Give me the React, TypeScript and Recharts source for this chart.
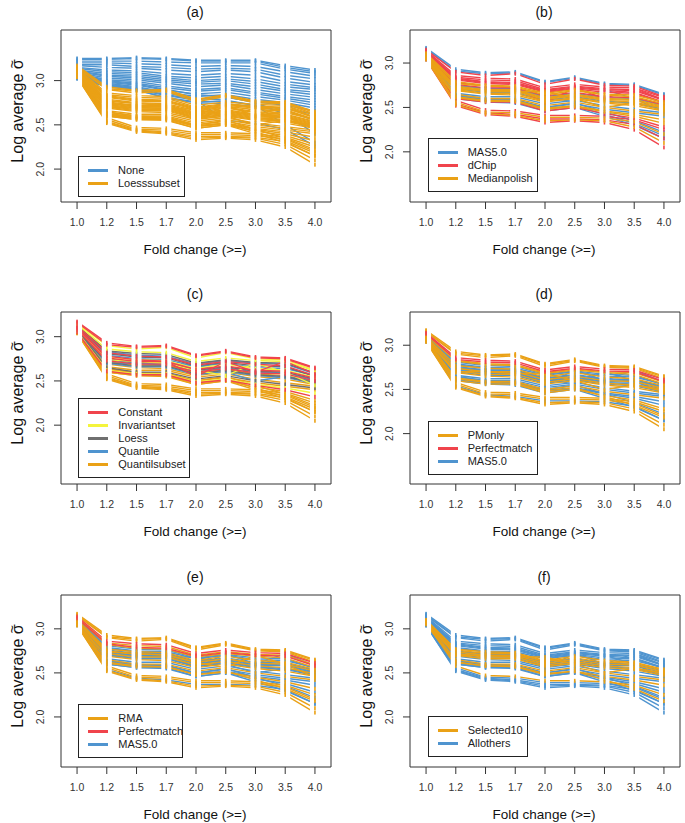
import { ComposedChart, Line, Scatter, XAxis, YAxis, ReferenceArea } from "recharts";

const FONT = "'Liberation Sans', Arial, Helvetica, sans-serif";

// fold change thresholds (x categories)
const FOLD_LABELS = ["1.0", "1.2", "1.5", "1.7", "2.0", "2.5", "3.0", "3.5", "4.0"];
const Y_TICKS = [2.0, 2.5, 3.0];

// lines shared by panels (b)-(f); orange "Loesssubset" lines of panel (a)
const SUBSET_LINES: number[][] = [
  [3.17, 2.93, 2.89, 2.9, 2.79, 2.84, 2.77, 2.76, 2.65],
  [3.16, 2.91, 2.88, 2.89, 2.78, 2.83, 2.76, 2.75, 2.64],
  [3.15, 2.9, 2.86, 2.88, 2.76, 2.82, 2.75, 2.74, 2.62],
  [3.14, 2.86, 2.83, 2.82, 2.72, 2.76, 2.73, 2.72, 2.61],
  [3.13, 2.84, 2.81, 2.8, 2.7, 2.74, 2.71, 2.7, 2.59],
  [3.12, 2.83, 2.79, 2.78, 2.69, 2.73, 2.7, 2.69, 2.58],
  [3.12, 2.82, 2.78, 2.77, 2.68, 2.72, 2.69, 2.67, 2.56],
  [3.11, 2.81, 2.77, 2.76, 2.67, 2.71, 2.67, 2.66, 2.55],
  [3.11, 2.79, 2.75, 2.74, 2.66, 2.7, 2.65, 2.64, 2.56],
  [3.1, 2.77, 2.74, 2.73, 2.64, 2.69, 2.64, 2.62, 2.54],
  [3.1, 2.76, 2.72, 2.72, 2.63, 2.67, 2.62, 2.61, 2.53],
  [3.09, 2.75, 2.71, 2.71, 2.62, 2.66, 2.61, 2.6, 2.52],
  [3.09, 2.74, 2.7, 2.7, 2.61, 2.65, 2.6, 2.59, 2.51],
  [3.08, 2.73, 2.69, 2.69, 2.6, 2.64, 2.59, 2.58, 2.5],
  [3.08, 2.72, 2.68, 2.68, 2.59, 2.63, 2.58, 2.56, 2.49],
  [3.07, 2.71, 2.67, 2.67, 2.58, 2.62, 2.57, 2.55, 2.48],
  [3.07, 2.7, 2.66, 2.66, 2.57, 2.61, 2.56, 2.54, 2.47],
  [3.06, 2.69, 2.65, 2.64, 2.56, 2.6, 2.55, 2.52, 2.46],
  [3.1, 2.78, 2.74, 2.72, 2.55, 2.72, 2.6, 2.72, 2.58],
  [3.09, 2.74, 2.72, 2.7, 2.62, 2.56, 2.7, 2.6, 2.45],
  [3.08, 2.7, 2.7, 2.68, 2.68, 2.6, 2.5, 2.55, 2.5],
  [3.08, 2.66, 2.62, 2.62, 2.54, 2.58, 2.52, 2.48, 2.44],
  [3.07, 2.65, 2.6, 2.6, 2.52, 2.56, 2.5, 2.46, 2.42],
  [3.06, 2.63, 2.59, 2.59, 2.5, 2.54, 2.48, 2.44, 2.4],
  [3.06, 2.62, 2.58, 2.58, 2.49, 2.52, 2.46, 2.42, 2.36],
  [3.05, 2.61, 2.57, 2.57, 2.48, 2.51, 2.45, 2.4, 2.32],
  [3.05, 2.6, 2.56, 2.56, 2.46, 2.5, 2.43, 2.38, 2.28],
  [3.06, 2.64, 2.6, 2.58, 2.5, 2.55, 2.45, 2.35, 2.22],
  [3.05, 2.62, 2.58, 2.57, 2.48, 2.52, 2.42, 2.32, 2.18],
  [3.04, 2.6, 2.56, 2.55, 2.46, 2.5, 2.4, 2.3, 2.15],
  [3.07, 2.58, 2.47, 2.46, 2.41, 2.41, 2.4, 2.36, 2.25],
  [3.06, 2.56, 2.45, 2.44, 2.39, 2.39, 2.38, 2.34, 2.2],
  [3.05, 2.54, 2.44, 2.42, 2.37, 2.37, 2.36, 2.31, 2.15],
  [3.04, 2.53, 2.43, 2.41, 2.35, 2.36, 2.35, 2.28, 2.1],
  [3.04, 2.52, 2.42, 2.4, 2.33, 2.35, 2.33, 2.25, 2.05],
];

// blue "None" lines of panel (a)
const NONE_LINES: number[][] = [
  [3.25, 3.25, 3.26, 3.25, 3.23, 3.23, 3.23, 3.17, 3.12],
  [3.24, 3.24, 3.25, 3.24, 3.22, 3.22, 3.22, 3.15, 3.1],
  [3.22, 3.22, 3.22, 3.21, 3.2, 3.2, 3.2, 3.13, 3.08],
  [3.2, 3.2, 3.19, 3.18, 3.16, 3.17, 3.16, 3.1, 3.05],
  [3.18, 3.18, 3.16, 3.15, 3.13, 3.14, 3.13, 3.06, 3.02],
  [3.17, 3.15, 3.14, 3.12, 3.1, 3.12, 3.1, 3.03, 2.98],
  [3.15, 3.12, 3.11, 3.08, 3.06, 3.08, 3.06, 2.99, 2.95],
  [3.14, 3.1, 3.09, 3.05, 3.03, 3.05, 3.02, 2.96, 2.92],
  [3.12, 3.08, 3.07, 3.03, 3.0, 3.02, 2.99, 2.93, 2.9],
  [3.11, 3.06, 3.05, 3.01, 2.98, 3.0, 2.96, 2.9, 2.87],
  [3.1, 3.05, 3.03, 2.99, 2.96, 2.97, 2.93, 2.88, 2.84],
  [3.09, 3.03, 3.01, 2.97, 2.93, 2.95, 2.9, 2.85, 2.81],
  [3.08, 3.01, 2.99, 2.94, 2.9, 2.92, 2.87, 2.82, 2.78],
  [3.07, 3.0, 2.97, 2.92, 2.88, 2.9, 2.85, 2.8, 2.75],
  [3.06, 2.98, 2.95, 2.89, 2.85, 2.87, 2.82, 2.78, 2.72],
  [3.05, 2.97, 2.93, 2.87, 2.82, 2.84, 2.79, 2.75, 2.69],
  [3.04, 2.95, 2.91, 2.84, 2.79, 2.81, 2.76, 2.72, 2.66],
  [3.03, 2.93, 2.89, 2.81, 2.76, 2.77, 2.72, 2.68, 2.62],
  [3.02, 2.94, 2.9, 2.8, 2.75, 2.74, 2.7, 2.66, 2.55],
  [3.04, 2.96, 2.92, 2.86, 2.8, 2.78, 2.72, 2.5, 2.3],
  [3.03, 2.95, 2.9, 2.83, 2.78, 2.55, 2.52, 2.45, 2.26],
  [3.06, 2.99, 2.96, 2.9, 2.84, 2.82, 2.75, 2.62, 2.4],
];

// group of each SUBSET_LINES entry, per panel
const SUMMARY_GROUP = [0, 0, 1, 1, 1, 1, 1, 1, 2, 2, 1, 0, 2, 2, 2, 0, 2, 2, 1, 0, 2, 0, 2, 0, 2, 2, 1, 0, 0, 0, 1, 2, 1, 2, 1];
const NORM_GROUP = [0, 0, 1, 1, 2, 3, 0, 2, 3, 1, 0, 2, 3, 0, 4, 2, 3, 4, 0, 1, 3, 4, 2, 4, 1, 0, 4, 4, 4, 4, 4, 4, 4, 4, 4];
const PM_GROUP = [0, 0, 0, 1, 1, 0, 0, 2, 2, 0, 2, 2, 0, 2, 2, 0, 2, 0, 2, 2, 0, 2, 2, 0, 2, 2, 0, 2, 0, 2, 0, 0, 2, 0, 0];
const BG_GROUP = [0, 0, 0, 1, 0, 1, 0, 2, 2, 0, 2, 0, 2, 2, 0, 2, 2, 0, 2, 0, 2, 2, 0, 2, 2, 0, 2, 2, 0, 2, 0, 0, 2, 0, 0];
const SELECT_GROUP = [1, 1, 1, 1, 1, 1, 1, 1, 1, 0, 0, 1, 0, 1, 0, 1, 0, 1, 1, 1, 0, 1, 0, 1, 0, 1, 1, 1, 0, 1, 0, 1, 1, 1, 1];

const BLUE = "#4f94cf";
const ORANGE = "#eaa116";
const RED = "#f0444c";
const YELLOW = "#f4f43c";
const GREY = "#6f6f6f";

const rows = FOLD_LABELS.map((_, i) => {
  const r: Record<string, number> = { x: i + 1 };
  SUBSET_LINES.forEach((l, j) => (r["s" + j] = l[i]));
  NONE_LINES.forEach((l, j) => (r["n" + j] = l[i]));
  return r;
});
const X_TICKS = rows.map((r) => r.x);
const X_DOMAIN = [0.46, 9.54];

// chart geometry
const CW = 340;
const CH = 258;
const PLOT_TOP = 30;
const PLOT_H = 172;
const PLOT_LEFT = 61;
const PLOT_RIGHT_MARGIN = 9;

type Series = { key: string; color: string };

function groupedSeries(groups: number[], colors: string[], order: number[]): Series[] {
  const out: Series[] = [];
  order.forEach((g) => {
    groups.forEach((gg, j) => {
      if (gg === g) out.push({ key: "s" + j, color: colors[g] });
    });
  });
  return out;
}

const PANELS = [
  {
    title: "(a)",
    left: 0,
    top: 0,
    domain: [1.628, 3.572],
    labels: ["None", "Loesssubset"],
    colors: [BLUE, ORANGE],
    series: [
      ...NONE_LINES.map((_, j) => ({ key: "n" + j, color: BLUE })),
      ...SUBSET_LINES.map((_, j) => ({ key: "s" + j, color: ORANGE })),
    ],
    legend: { left: 78, top: 155.7, width: 107 },
  },
  {
    title: "(b)",
    left: 349,
    top: 0,
    domain: [1.435, 3.372],
    labels: ["MAS5.0", "dChip", "Medianpolish"],
    colors: [BLUE, RED, ORANGE],
    series: groupedSeries(SUMMARY_GROUP, [BLUE, RED, ORANGE], [0, 1, 2]),
    legend: { left: 78.7, top: 137.7, width: 110 },
  },
  {
    title: "(c)",
    left: 0,
    top: 282,
    domain: [1.335, 3.279],
    labels: ["Constant", "Invariantset", "Loess", "Quantile", "Quantilsubset"],
    colors: [RED, YELLOW, GREY, BLUE, ORANGE],
    series: groupedSeries(NORM_GROUP, [RED, YELLOW, GREY, BLUE, ORANGE], [4, 3, 2, 1, 0]),
    legend: { left: 78.3, top: 116.3, width: 112 },
  },
  {
    title: "(d)",
    left: 349,
    top: 282,
    domain: [1.43, 3.376],
    labels: ["PMonly", "Perfectmatch", "MAS5.0"],
    colors: [ORANGE, RED, BLUE],
    series: groupedSeries(PM_GROUP, [ORANGE, RED, BLUE], [2, 0, 1]),
    legend: { left: 78.7, top: 139, width: 110 },
  },
  {
    title: "(e)",
    left: 0,
    top: 565,
    domain: [1.432, 3.384],
    labels: ["RMA", "Perfectmatch", "MAS5.0"],
    colors: [ORANGE, RED, BLUE],
    series: groupedSeries(BG_GROUP, [ORANGE, RED, BLUE], [2, 0, 1]),
    legend: { left: 78.3, top: 138.7, width: 105 },
  },
  {
    title: "(f)",
    left: 349,
    top: 565,
    domain: [1.432, 3.384],
    labels: ["Selected10", "Allothers"],
    colors: [ORANGE, BLUE],
    series: groupedSeries(SELECT_GROUP, [ORANGE, BLUE], [1, 0]),
    legend: { left: 78.7, top: 151.3, width: 100 },
  },
];

const XTick = (props: any) => {
  const { x, y, payload } = props;
  return (
    <g>
      <line x1={x} x2={x} y1={y} y2={y + 7} stroke="#333" strokeWidth={1} />
      <text x={x} y={y + 20} textAnchor="middle" dominantBaseline="central" fontSize={10.5} fill="#333" fontFamily={FONT}>
        {FOLD_LABELS[payload.value - 1]}
      </text>
    </g>
  );
};

const YTick = (props: any) => {
  const { x, y, payload } = props;
  return (
    <g>
      <line x1={x - 7} x2={x} y1={y} y2={y} stroke="#333" strokeWidth={1} />
      <text
        x={x - 21}
        y={y}
        textAnchor="middle"
        dominantBaseline="central"
        fontSize={10.5}
        fill="#333"
        fontFamily={FONT}
        transform={`rotate(-90 ${x - 21} ${y})`}
      >
        {payload.value.toFixed(1)}
      </text>
    </g>
  );
};

// white column that breaks the lines around each point, like type="b"
const GapShape = (props: any) => (
  <rect x={props.cx - 5} y={PLOT_TOP + 1.5} width={10} height={PLOT_H - 3} fill="#ffffff" />
);

const MarkShape = (props: any) => (
  <rect x={props.cx - 0.8} y={props.cy - 2} width={1.6} height={4} fill={props.payload.color} />
);

function Panel({ p }: { p: (typeof PANELS)[number] }) {
  const points = p.series.flatMap((s) => rows.map((r) => ({ x: r.x, y: r[s.key], color: s.color })));
  const gaps = rows.map((r) => ({ x: r.x, y: p.domain[0] + 0.5 }));
  const boxCx = PLOT_LEFT + (CW - PLOT_LEFT - PLOT_RIGHT_MARGIN) / 2 - 1;
  return (
    <div style={{ position: "absolute", left: p.left, top: p.top, width: CW, height: CH }}>
      <ComposedChart
        width={CW}
        height={CH}
        data={rows}
        margin={{ top: PLOT_TOP, right: PLOT_RIGHT_MARGIN, bottom: 0, left: 0 }}
      >
        <XAxis
          type="number"
          dataKey="x"
          domain={X_DOMAIN}
          ticks={X_TICKS}
          interval={0}
          axisLine={false}
          tickLine={false}
          tickSize={0}
          tickMargin={0}
          height={CH - PLOT_TOP - PLOT_H}
          tick={XTick}
          allowDataOverflow
        />
        <YAxis
          type="number"
          domain={p.domain}
          ticks={Y_TICKS}
          axisLine={false}
          tickLine={false}
          tickSize={0}
          tickMargin={0}
          width={PLOT_LEFT}
          tick={YTick}
          allowDataOverflow
        />
        <ReferenceArea
          x1={X_DOMAIN[0]}
          x2={X_DOMAIN[1]}
          y1={p.domain[0]}
          y2={p.domain[1]}
          fill="#fff"
          fillOpacity={0}
          stroke="#333"
          strokeWidth={1}
          ifOverflow="visible"
        />
        {p.series.map((s) => (
          <Line
            key={s.key}
            type="linear"
            dataKey={s.key}
            stroke={s.color}
            strokeWidth={1.4}
            dot={false}
            activeDot={false}
            isAnimationActive={false}
          />
        ))}
        <Scatter data={gaps} dataKey="y" shape={GapShape} isAnimationActive={false} />
        <Scatter data={points} dataKey="y" shape={MarkShape} isAnimationActive={false} />
      </ComposedChart>

      <div
        style={{
          position: "absolute",
          left: boxCx,
          top: 11.5,
          transform: "translate(-50%, -50%)",
          fontFamily: FONT,
          fontSize: 14,
          whiteSpace: "nowrap",
          color: "#111",
        }}
      >
        {p.title}
      </div>
      <div
        style={{
          position: "absolute",
          left: boxCx,
          top: PLOT_TOP + PLOT_H + 46.5,
          transform: "translate(-50%, -50%)",
          fontFamily: FONT,
          fontSize: 13.5,
          whiteSpace: "nowrap",
          color: "#111",
        }}
      >
        Fold change (&gt;=)
      </div>
      <div
        style={{
          position: "absolute",
          left: 18,
          top: PLOT_TOP + PLOT_H / 2 - 5,
          transform: "translate(-50%, -50%) rotate(-90deg)",
          fontFamily: FONT,
          fontSize: 16,
          whiteSpace: "nowrap",
          color: "#111",
        }}
      >
        Log average{" "}
        <span style={{ position: "relative", display: "inline-block" }}>
          σ
          <span
            style={{
              position: "absolute",
              left: "50%",
              top: "-0.36em",
              transform: "translateX(-50%)",
              fontSize: "0.9em",
            }}
          >
            ~
          </span>
        </span>
      </div>

      <div
        style={{
          position: "absolute",
          left: p.legend.left,
          top: p.legend.top,
          width: p.legend.width,
          boxSizing: "border-box",
          border: "1px solid #222",
          background: "#fff",
          padding: "7px 0 6px 0",
          fontFamily: FONT,
          fontSize: 11,
          color: "#222",
        }}
      >
        {p.labels.map((lab, i) => (
          <div key={lab} style={{ position: "relative", height: 13, lineHeight: "13px" }}>
            <div
              style={{
                position: "absolute",
                left: 9,
                top: 5,
                width: 20,
                height: 3,
                background: p.colors[i],
              }}
            />
            <span style={{ position: "absolute", left: 39, top: 0, whiteSpace: "nowrap" }}>{lab}</span>
          </div>
        ))}
      </div>
    </div>
  );
}

export default function App() {
  return (
    <div
      style={{
        position: "absolute",
        left: 0,
        top: 0,
        width: 685,
        height: 823,
        overflow: "hidden",
        background: "#fff",
      }}
    >
      {PANELS.map((p) => (
        <Panel key={p.title} p={p} />
      ))}
    </div>
  );
}
